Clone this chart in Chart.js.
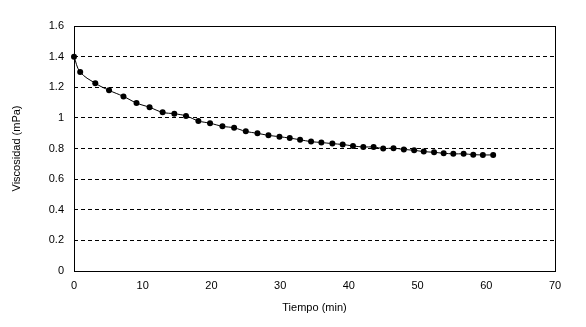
<!DOCTYPE html>
<html>
<head>
<meta charset="utf-8">
<script src="https://cdn.jsdelivr.net/npm/chart.js@4/dist/chart.umd.min.js"></script>
<style>
  html, body { margin: 0; padding: 0; background: #fff; }
  #wrap { width: 586px; height: 327px; }
</style>
</head>
<body>
<div id="wrap"><canvas id="chart" width="586" height="327"></canvas></div>
<script>
// tiempo (min) y viscosidad (mPa)
const tiempo = [0, 0.9, 3.1, 5.1, 7.2, 9.1, 11, 12.9, 14.6, 16.3, 18.1, 19.8, 21.6,
  23.3, 25, 26.7, 28.3, 29.9, 31.4, 32.9, 34.5, 36, 37.6, 39.1, 40.6, 42.1, 43.6, 45,
  46.5, 48, 49.5, 50.9, 52.4, 53.8, 55.2, 56.7, 58.1, 59.5, 61];
const viscosidad = [1.40, 1.30, 1.226, 1.18, 1.14, 1.097, 1.069, 1.036, 1.027, 1.013, 0.98, 0.965, 0.945,
  0.935, 0.912, 0.899, 0.886, 0.877, 0.868, 0.857, 0.845, 0.839, 0.832, 0.826, 0.817, 0.81, 0.81, 0.80,
  0.802, 0.794, 0.788, 0.78, 0.775, 0.769, 0.765, 0.765, 0.76, 0.758, 0.758];

const xMin = 0, xMax = 70, xStep = 10;
const yMin = 0, yMax = 1.6, yStep = 0.2;

const fontFam = '"Liberation Sans", Arial, sans-serif';

const boxPlugin = {
  id: 'box',
  afterDraw(chart) {
    const { ctx, chartArea: a } = chart;
    ctx.save();
    ctx.strokeStyle = '#000';
    ctx.lineWidth = 1;
    ctx.strokeRect(Math.round(a.left) + 0.5, Math.round(a.top) + 0.5,
      Math.round(a.right - a.left), Math.round(a.bottom - a.top));
    ctx.restore();
  }
};

new Chart(document.getElementById('chart'), {
  type: 'scatter',
  data: {
    datasets: [{
      data: tiempo.map((t, i) => ({ x: t, y: viscosidad[i] })),
      showLine: true,
      tension: 0.4,
      borderColor: '#000',
      borderWidth: 1,
      backgroundColor: '#000',
      pointRadius: 3,
      pointBorderWidth: 0,
      clip: false
    }]
  },
  options: {
    responsive: false,
    animation: false,
    events: [],
    layout: { padding: { left: 0, top: 26, right: 31, bottom: 0 } },
    plugins: { legend: { display: false }, tooltip: { enabled: false } },
    scales: {
      x: {
        type: 'linear',
        min: xMin, max: xMax,
        afterFit: s => { s.height = 56; },
        ticks: { stepSize: xStep, padding: 8, color: '#000', font: { family: fontFam, size: 11 } },
        grid: { display: false, drawTicks: false },
        border: { display: false },
        title: { display: true, text: 'Tiempo (min)', color: '#000', font: { family: fontFam, size: 11 }, padding: { top: 0, bottom: 12 } }
      },
      y: {
        min: yMin, max: yMax,
        afterFit: s => { s.width = 74; },
        ticks: { stepSize: yStep, padding: 10, color: '#000', font: { family: fontFam, size: 11 },
          callback: v => String(Math.round(v * 10) / 10) },
        grid: {
          drawTicks: false,
          color: c => (c.tick.value > yMin + 0.01 && c.tick.value < yMax - 0.01) ? '#000' : 'rgba(0,0,0,0)',
          lineWidth: 1
        },
        border: { display: false, dash: [4, 3] },
        title: { display: true, text: 'Viscosidad (mPa)', color: '#000', font: { family: fontFam, size: 11 }, padding: { top: 10, bottom: 0 } }
      }
    }
  },
  plugins: [boxPlugin]
});
</script>
</body>
</html>
